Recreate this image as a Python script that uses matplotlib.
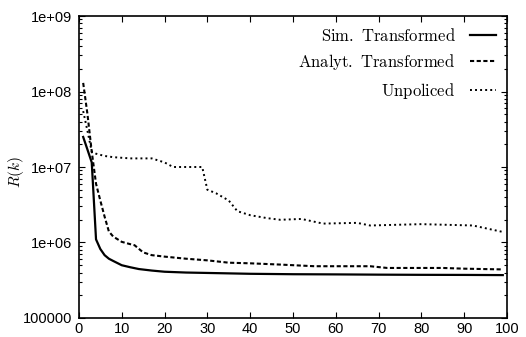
"""
R(k) for the transformed and unpoliced cases, gnuplot-like look.
"""

import numpy as np
import matplotlib
matplotlib.use('Agg')
import matplotlib.pyplot as plt
from matplotlib.ticker import FixedLocator, FixedFormatter, LogLocator, NullFormatter

sim_k = [1, 2, 3, 4, 5, 6, 7, 8, 10, 12, 14, 17, 20, 25, 30, 40, 50, 60, 70, 80, 90, 99]
sim_r = [2.5e7, 1.7e7, 1.15e7, 1.1e6, 8.2e5, 6.8e5, 6.1e5, 5.7e5, 5.0e5, 4.7e5, 4.45e5,
         4.25e5, 4.1e5, 4.0e5, 3.95e5, 3.85e5, 3.8e5, 3.78e5, 3.75e5, 3.73e5, 3.72e5, 3.7e5]

ana_k = [1, 2, 3, 4, 5, 6, 7, 8, 10, 12, 13, 15, 17, 20, 25, 30, 35, 40, 47, 55, 68, 72, 85, 90, 99]
ana_r = [1.3e8, 5.0e7, 1.6e7, 6.0e6, 3.6e6, 2.2e6, 1.4e6, 1.2e6, 1.02e6, 9.5e5, 9.2e5, 7.4e5,
         6.8e5, 6.5e5, 6.1e5, 5.8e5, 5.4e5, 5.3e5, 5.1e5, 4.85e5, 4.85e5, 4.6e5, 4.6e5, 4.5e5, 4.4e5]

unp_k = [1, 2, 3, 4, 6, 8, 12, 17, 20, 22, 25, 28.8, 30, 32, 35, 37, 40, 44, 47, 52, 57, 65,
         68, 80, 92, 99]
unp_r = [5.5e7, 3.0e7, 1.6e7, 1.5e7, 1.4e7, 1.35e7, 1.3e7, 1.3e7, 1.15e7, 1.0e7, 1.0e7, 1.0e7,
         5.0e6, 4.5e6, 3.6e6, 2.6e6, 2.3e6, 2.1e6, 2.0e6, 2.05e6, 1.78e6, 1.82e6, 1.68e6, 1.75e6,
         1.68e6, 1.38e6]

labels = ['Sim. Transformed', 'Analyt. Transformed', 'Unpoliced']
y_ticks = [1e5, 1e6, 1e7, 1e8, 1e9]
y_tick_labels = ['100000', '1e+06', '1e+07', '1e+08', '1e+09']
x_ticks = list(range(0, 101, 10))


def tex_label(s):
    return r'$\mathrm{' + s.replace(' ', r'\ ') + '}$'


def plot_main():
    plt.rcParams['mathtext.fontset'] = 'cm'
    plt.rcParams['font.family'] = 'Liberation Sans'

    fig = plt.figure(figsize=(5.26, 3.37), dpi=100)
    ax = fig.add_axes([0.150, 0.0564, 0.814, 0.8961])

    ax.plot(sim_k, sim_r, color='black', lw=1.6, label=tex_label(labels[0]))
    ax.plot(ana_k, ana_r, color='black', lw=1.5, dashes=(2.0, 1.2),
            label=tex_label(labels[1]))
    ax.plot(unp_k, unp_r, color='black', lw=1.4, dashes=(1.0, 1.6),
            label=tex_label(labels[2]))

    ax.set_yscale('log')
    ax.set_xlim(0, 100)
    ax.set_ylim(1e5, 1e9)
    ax.yaxis.set_major_locator(FixedLocator(y_ticks))
    ax.yaxis.set_major_formatter(FixedFormatter(y_tick_labels))
    ax.yaxis.set_minor_locator(LogLocator(base=10, subs=np.arange(2, 10)))
    ax.yaxis.set_minor_formatter(NullFormatter())
    ax.set_xticks(x_ticks)

    ax.tick_params(which='both', direction='in', top=True, right=True,
                   labelsize=10.5, width=0.8)
    ax.tick_params(axis='y', pad=5)
    ax.tick_params(axis='x', pad=3)
    ax.tick_params(which='major', length=4)
    ax.tick_params(which='minor', length=2)
    for s in ax.spines.values():
        s.set_linewidth(1.2)

    # right edge of the rotated label sits at the given x
    ax.set_ylabel(r'$R(k)$', fontsize=11)
    ax.yaxis.set_label_coords(-0.124, 0.483)

    leg = ax.legend(loc='upper right', markerfirst=False, frameon=False,
                    fontsize=12, handlelength=1.6, handletextpad=0.85,
                    labelspacing=0.5, borderaxespad=0.25)

    plt.savefig('out.png', dpi=100)


if __name__ == "__main__":
    plot_main()
